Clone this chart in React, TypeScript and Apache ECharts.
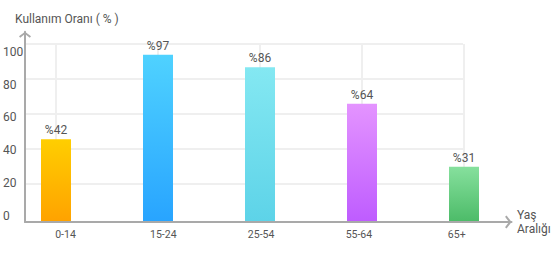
import React, { useEffect, useRef } from "react";
import * as echarts from "echarts";

const categories = ["0-14", "15-24", "25-54", "55-64", "65+"];
const barValues = [46.5, 94, 87, 66.5, 31];
const labelValues = [42, 97, 86, 64, 31];
const topColors = ["#FFCE00", "#4FD2FF", "#84E8F2", "#E494FF", "#86E09D"];
const bottomColors = ["#FFA200", "#28A4FF", "#5DD3E8", "#BE5CFF", "#4CBB68"];
const yMin = 0;
const yMax = 100;
const yStep = 20;
const titleText = "Kullanım Oranı ( % )";
const xName = "Yaş\nAralığı";

const FONT = "Roboto, 'Noto Sans', sans-serif";
const TEXT = "#555";
const AXIS = "#A9A9A9";
const GRIDC = "#EFEFEF";
const CHEVRON = "path://M0,4.6 L6,0 L12,4.6 L10.8,6 L6,2.4 L1.2,6 Z";

export default function App() {
  const ref = useRef<HTMLDivElement>(null);
  useEffect(() => {
    if (!ref.current) return;
    const chart = echarts.init(ref.current, null, { renderer: "svg" });
    const hidden = { show: false };
    chart.setOption({
      animation: false,
      textStyle: { fontFamily: FONT },
      title: {
        text: titleText,
        left: 15,
        top: 13,
        padding: 0,
        textStyle: { fontSize: 12, fontWeight: "normal", color: TEXT, fontFamily: FONT },
      },
      grid: [
        { left: 56, right: 94, top: 44, bottom: 39 },
        { left: 25, right: 95, top: 44, bottom: 42 },
        { left: 25, right: 46.5, top: 31.7, bottom: 39 },
        { left: 25, right: 95, top: 51.7, bottom: 45 },
        { left: 65.5, right: 101.3, top: 44, bottom: 39 },
      ],
      xAxis: [
        {
          gridIndex: 0,
          type: "category",
          data: categories,
          boundaryGap: false,
          axisLine: hidden,
          axisTick: hidden,
          axisLabel: hidden,
          splitLine: { show: true, lineStyle: { color: GRIDC, width: 2 } },
        },
        { gridIndex: 1, type: "value", show: false },
        {
          gridIndex: 2,
          type: "value",
          min: 0,
          max: 1,
          axisLine: {
            show: true,
            lineStyle: { color: AXIS, width: 2 },
            symbol: ["none", CHEVRON],
            symbolSize: [13, 6.5],
            symbolOffset: [0, -3.2],
          },
          axisTick: hidden,
          axisLabel: hidden,
          splitLine: hidden,
          name: xName,
          nameLocation: "end",
          nameGap: 5.5,
          nameTextStyle: {
            align: "left",
            verticalAlign: "middle",
            fontSize: 12,
            lineHeight: 14,
            color: TEXT,
            fontFamily: FONT,
          },
          z: 10,
        },
        { gridIndex: 3, type: "value", show: false },
        {
          gridIndex: 4,
          type: "category",
          data: categories,
          boundaryGap: false,
          axisLine: hidden,
          axisTick: hidden,
          splitLine: hidden,
          axisLabel: { show: true, margin: 7, fontSize: 10.5, color: TEXT, fontFamily: FONT },
        },
      ],
      yAxis: [
        { gridIndex: 0, type: "value", min: yMin, max: yMax, show: false },
        {
          gridIndex: 1,
          type: "value",
          min: yMin,
          max: yMax,
          interval: yStep,
          axisLine: hidden,
          axisTick: hidden,
          axisLabel: hidden,
          splitLine: { show: true, showMinLine: false, lineStyle: { color: GRIDC, width: 2 } },
        },
        {
          gridIndex: 2,
          type: "value",
          min: 0,
          max: 1,
          axisLine: {
            show: true,
            lineStyle: { color: AXIS, width: 2 },
            symbol: ["none", CHEVRON],
            symbolSize: [12, 6],
            symbolOffset: [0, -3],
          },
          axisTick: hidden,
          axisLabel: hidden,
          splitLine: hidden,
          z: 10,
        },
        {
          gridIndex: 3,
          type: "value",
          min: yMin,
          max: yMax,
          interval: yStep,
          axisLine: hidden,
          axisTick: hidden,
          splitLine: hidden,
          axisLabel: { show: true, align: "left", margin: 25, fontSize: 12, color: TEXT, fontFamily: FONT },
        },
        { gridIndex: 4, type: "value", show: false },
      ],
      series: [
        {
          type: "bar",
          xAxisIndex: 0,
          yAxisIndex: 0,
          barWidth: 30,
          data: barValues.map((v, i) => ({
            value: v,
            itemStyle: {
              color: new echarts.graphic.LinearGradient(0, 0, 0, 1, [
                { offset: 0, color: topColors[i] },
                { offset: 1, color: bottomColors[i] },
              ]),
            },
          })),
          label: {
            show: true,
            position: "top",
            distance: 3,
            fontSize: 12,
            color: TEXT,
            fontFamily: FONT,
            formatter: (p: any) => "%" + labelValues[p.dataIndex],
          },
          z: 3,
        },
      ],
    });
    return () => chart.dispose();
  }, []);
  return (
    <div
      ref={ref}
      style={{ position: "fixed", left: 0, top: 0, width: 558, height: 261, background: "#fff" }}
    />
  );
}
